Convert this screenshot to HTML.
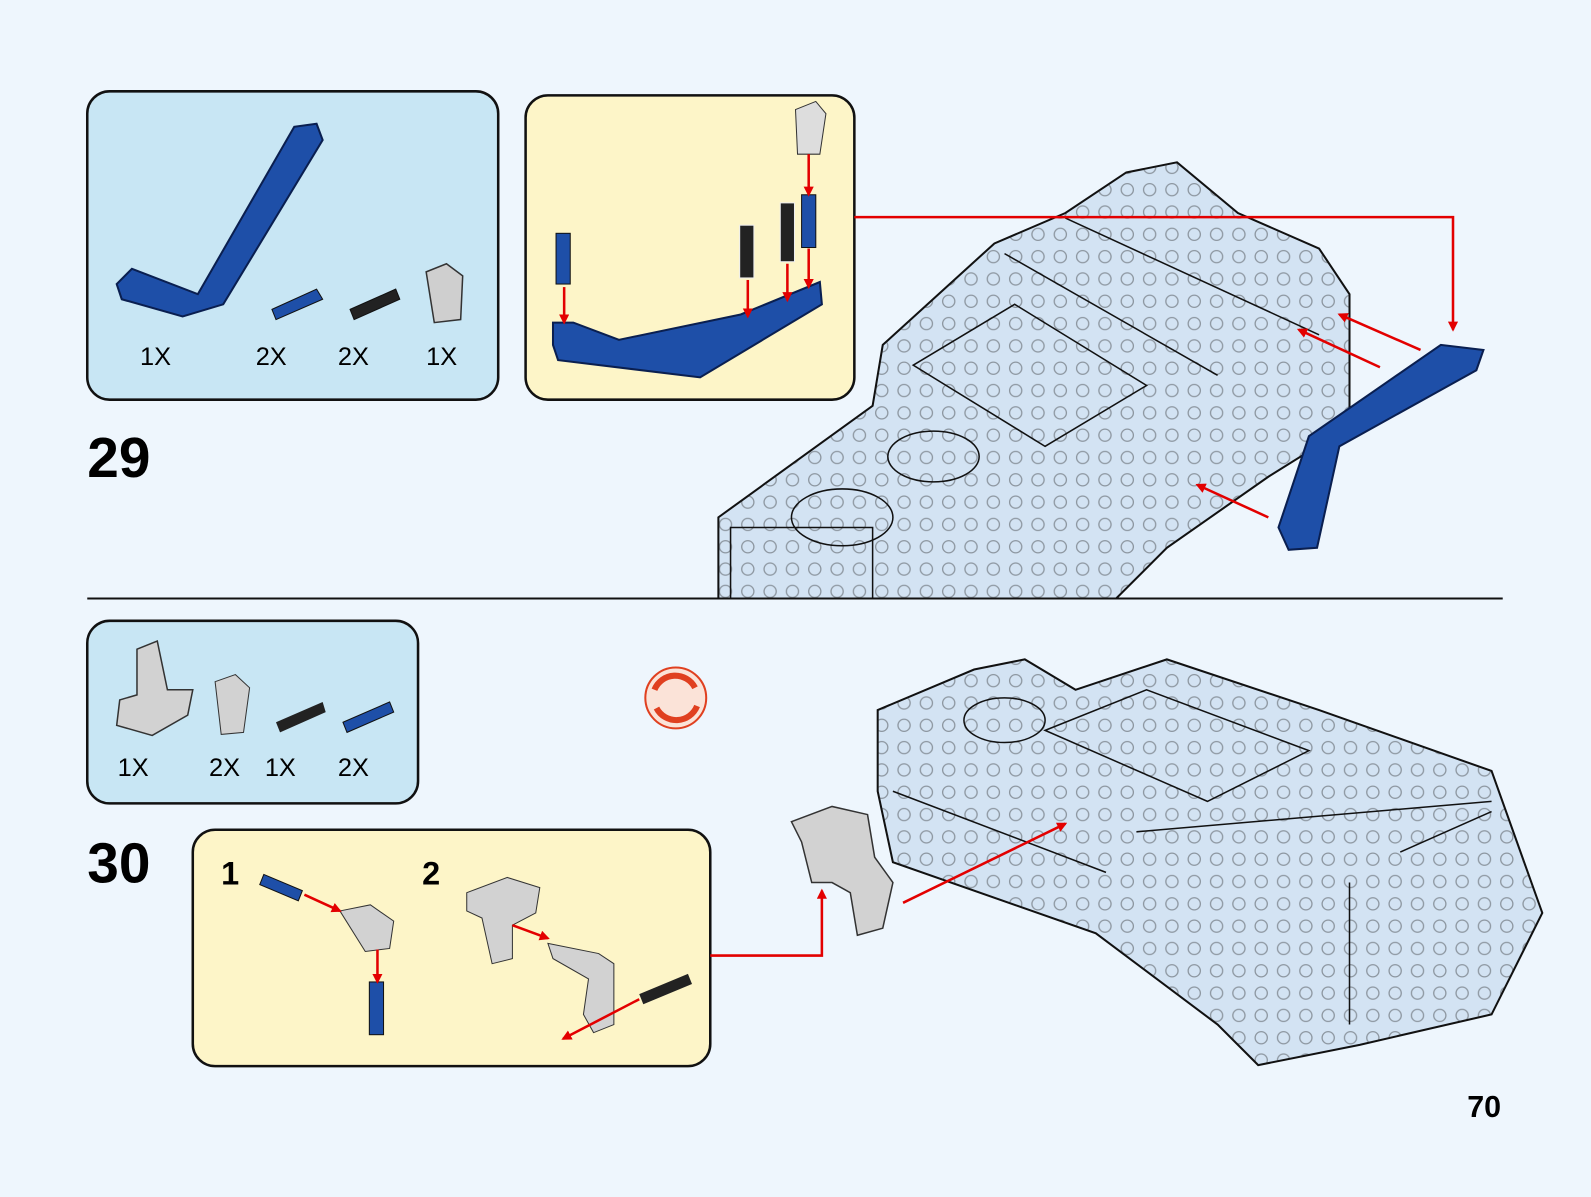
<!DOCTYPE html>
<html><head><meta charset="utf-8"><style>
html,body{margin:0;padding:0;background:#eef6fd;}
svg{display:block}
text{font-family:"Liberation Sans",Arial,sans-serif}
</style></head><body>
<svg width="1591" height="1197" viewBox="0 0 1568 1180" preserveAspectRatio="none" xmlns="http://www.w3.org/2000/svg">
<defs>
<marker id="ar" markerWidth="10" markerHeight="10" refX="8" refY="5" orient="auto" markerUnits="userSpaceOnUse"><path d="M0,0 L10,5 L0,10 z" fill="#e30000"/></marker>
<pattern id="holes" width="22" height="22" patternUnits="userSpaceOnUse"><circle cx="11" cy="11" r="6" fill="none" stroke="#222" stroke-width="1.3"/></pattern>
</defs>
<rect width="1568" height="1180" fill="#eef6fd"/>
<rect x="86" y="90" width="405" height="304" rx="22" fill="#c8e6f4" stroke="#111" stroke-width="2.5"/>
<path d="M115,280 L130,265 L195,290 L290,125 L312,122 L318,138 L220,300 L180,312 L120,295 z" fill="#1e4fa8" stroke="#0a1f50" stroke-width="2"/>
<path d="M268,305 L312,285 L318,295 L272,315 z" fill="#1e4fa8" stroke="#111"/>
<path d="M345,305 L390,285 L394,295 L349,315 z" fill="#222" stroke="#111"/>
<path d="M420,268 L440,260 L456,272 L454,315 L428,318 z" fill="#cfcfcf" stroke="#333" stroke-width="1.5"/>
<text x="138" y="360" font-size="25">1X</text><text x="252" y="360" font-size="25">2X</text><text x="333" y="360" font-size="25">2X</text><text x="420" y="360" font-size="25">1X</text>
<rect x="518" y="94" width="324" height="300" rx="22" fill="#fdf5c8" stroke="#111" stroke-width="2.5"/>
<path d="M545,318 L565,318 L610,335 L730,310 L808,278 L810,300 L690,372 L550,355 L545,340 z" fill="#1e4fa8" stroke="#0a1f50" stroke-width="2"/>
<rect x="548" y="230" width="14" height="50" fill="#1e4fa8" stroke="#111"/>
<rect x="729" y="222" width="14" height="52" fill="#222" stroke="#eee"/>
<rect x="769" y="200" width="14" height="58" fill="#222" stroke="#eee"/>
<rect x="790" y="192" width="14" height="52" fill="#1e4fa8" stroke="#111"/>
<path d="M784,108 L804,100 L814,112 L808,152 L786,152 z" fill="#ddd" stroke="#333"/>
<g stroke="#e30000" stroke-width="2.5" fill="none" marker-end="url(#ar)">
<line x1="556" y1="283" x2="556" y2="318"/><line x1="737" y1="276" x2="737" y2="312"/><line x1="776" y1="260" x2="776" y2="296"/><line x1="797" y1="245" x2="797" y2="283"/><line x1="797" y1="152" x2="797" y2="192"/>
</g>
<text x="86" y="470" font-size="56" font-weight="bold">29</text>
<path d="M708,590 L708,510 L860,400 L870,340 L980,240 L1050,210 L1110,170 L1160,160 L1220,210 L1300,245 L1330,290 L1330,420 L1250,470 L1150,540 L1100,590 z" fill="#d3e3f3" stroke="#111" stroke-width="2"/>
<path d="M708,590 L708,510 L860,400 L870,340 L980,240 L1050,210 L1110,170 L1160,160 L1220,210 L1300,245 L1330,290 L1330,420 L1250,470 L1150,540 L1100,590 z" fill="url(#holes)" opacity="0.4"/>
<g fill="none" stroke="#111" stroke-width="1.5"><path d="M900,360 L1000,300 L1130,380 L1030,440 z"/><path d="M990,250 L1200,370"/><path d="M1050,215 L1300,330"/><ellipse cx="920" cy="450" rx="45" ry="25"/><ellipse cx="830" cy="510" rx="50" ry="28"/><path d="M720,590 L720,520 L860,520 L860,590"/></g>
<path d="M1260,520 L1290,430 L1420,340 L1462,345 L1455,365 L1320,440 L1298,540 L1270,542 z" fill="#1e4fa8" stroke="#0a1f50" stroke-width="2"/>
<g stroke="#e30000" stroke-width="2.5" fill="none" marker-end="url(#ar)">
<polyline points="842,214 1432,214 1432,325"/>
<line x1="1400" y1="345" x2="1320" y2="310"/><line x1="1360" y1="362" x2="1280" y2="325"/><line x1="1250" y1="510" x2="1180" y2="478"/>
</g>
<line x1="86" y1="590" x2="1481" y2="590" stroke="#111" stroke-width="2"/>
<rect x="86" y="612" width="326" height="180" rx="22" fill="#c8e6f4" stroke="#111" stroke-width="2.5"/>
<path d="M135,640 L155,632 L165,680 L190,680 L185,705 L150,725 L115,715 L118,690 L135,685 z" fill="#d2d2d2" stroke="#333" stroke-width="1.5"/>
<path d="M212,672 L232,665 L246,678 L240,722 L218,724 z" fill="#d2d2d2" stroke="#333"/>
<path d="M272,712 L318,692 L321,702 L276,722 z" fill="#222"/>
<path d="M338,712 L384,692 L388,702 L342,722 z" fill="#1e4fa8" stroke="#111"/>
<text x="116" y="765" font-size="25">1X</text><text x="206" y="765" font-size="25">2X</text><text x="261" y="765" font-size="25">1X</text><text x="333" y="765" font-size="25">2X</text>
<text x="86" y="870" font-size="56" font-weight="bold">30</text>
<rect x="190" y="818" width="510" height="233" rx="22" fill="#fdf5c8" stroke="#111" stroke-width="2.5"/>
<text x="218" y="872" font-size="32" font-weight="bold">1</text><text x="416" y="872" font-size="32" font-weight="bold">2</text>
<path d="M260,862 L298,878 L294,888 L256,872 z" fill="#1e4fa8" stroke="#111"/>
<path d="M335,898 L365,892 L388,908 L384,935 L360,938 z" fill="#d2d2d2" stroke="#333"/>
<rect x="364" y="968" width="14" height="52" fill="#1e4fa8" stroke="#111"/>
<path d="M460,880 L500,865 L532,875 L528,900 L505,912 L505,945 L485,950 L475,905 L460,898 z" fill="#d2d2d2" stroke="#333"/>
<path d="M540,930 L590,940 L605,950 L605,1010 L585,1018 L575,1000 L580,965 L545,945 z" fill="#d2d2d2" stroke="#333"/>
<path d="M630,980 L678,960 L682,970 L634,990 z" fill="#222"/>
<circle cx="666" cy="688" r="30" fill="#fbe3d8" stroke="#e04020" stroke-width="2"/>
<path d="M645,680 A22,22 0 0 1 685,678" fill="none" stroke="#e04020" stroke-width="6"/><path d="M687,696 A22,22 0 0 1 647,698" fill="none" stroke="#e04020" stroke-width="6"/>
<path d="M780,810 L820,795 L855,803 L862,845 L880,870 L870,915 L845,922 L838,880 L820,870 L800,870 L790,830 z" fill="#d2d2d2" stroke="#333" stroke-width="1.5"/>
<path d="M865,700 L960,660 L1010,650 L1060,680 L1150,650 L1300,700 L1470,760 L1520,900 L1470,1000 L1340,1030 L1240,1050 L1200,1010 L1080,920 L880,850 L865,780 z" fill="#d3e3f3" stroke="#111" stroke-width="2"/>
<path d="M865,700 L960,660 L1010,650 L1060,680 L1150,650 L1300,700 L1470,760 L1520,900 L1470,1000 L1340,1030 L1240,1050 L1200,1010 L1080,920 L880,850 L865,780 z" fill="url(#holes)" opacity="0.4"/>
<g fill="none" stroke="#111" stroke-width="1.5"><path d="M1030,720 L1130,680 L1290,740 L1190,790 z"/><path d="M880,780 L1090,860"/><path d="M1120,820 L1470,790"/><ellipse cx="990" cy="710" rx="40" ry="22"/><path d="M1330,870 L1330,1010"/><path d="M1380,840 L1470,800"/></g>
<g stroke="#e30000" stroke-width="2.5" fill="none" marker-end="url(#ar)">
<line x1="300" y1="882" x2="335" y2="898"/><line x1="372" y1="936" x2="372" y2="968"/><line x1="505" y1="912" x2="540" y2="925"/><line x1="630" y1="985" x2="555" y2="1024"/>
<polyline points="700,942 810,942 810,878"/>
<line x1="890" y1="890" x2="1050" y2="812"/>
</g>
<text x="1446" y="1101" font-size="30" font-weight="bold">70</text>
</svg>
</body></html>
